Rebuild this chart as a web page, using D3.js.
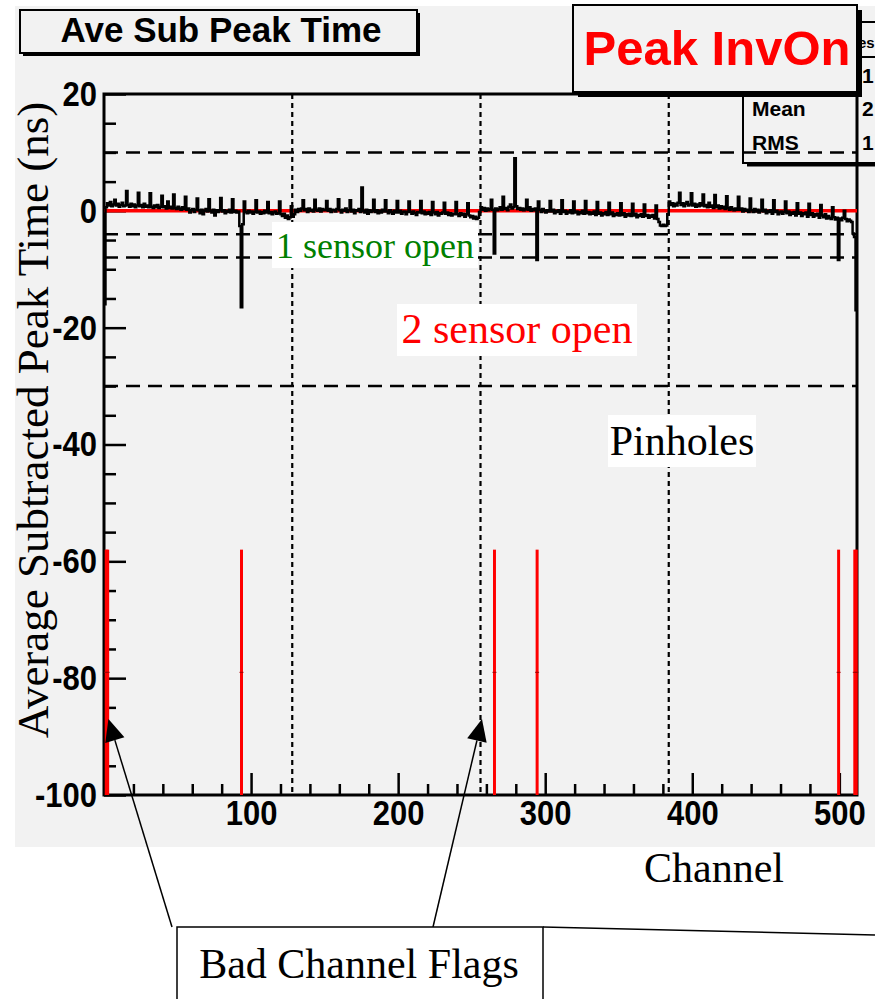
<!DOCTYPE html>
<html lang="en">
<head>
<meta charset="utf-8">
<title>Ave Sub Peak Time</title>
<style>
  body { margin: 0; background: #ffffff; }
  svg { display: block; }
  .tick text { font-family: "Liberation Sans", Arial, sans-serif; font-weight: bold; font-size: 31px; fill: #000; }
  .serif { font-family: "Liberation Serif", "Times New Roman", serif; }
  .sans { font-family: "Liberation Sans", Arial, sans-serif; font-weight: bold; }
</style>
<script src="https://d3js.org/d3.v7.min.js"></script>
</head>
<body>
<div id="chart"></div>
<script>
// average subtracted peak time per channel (4 sensors x 128 channels)
var sensor1 = [
  -16.0, 0.6, 1.3, 0.9, 1.5, 0.8, 1.1, 1.9,
  0.9, 1.2, 0.7, 1.0, 1.4, 0.8, 0.9, 3.4,
  1.0, 0.7, 1.2, 0.8, 1.1, 0.6, 0.9, 3.1,
  0.8, 1.0, 0.6, 1.2, 0.7, 0.9, 0.6, 3.0,
  0.7, 0.5, 0.9, 0.6, 1.0, 0.5, 0.7, 2.6,
  0.6, 0.8, 0.4, 1.6, 0.5, 0.7, 0.4, 2.8,
  0.5, 0.3, 0.7, 0.4, 0.2, 0.6, 0.3, 2.4,
  0.2, 0.4, -0.3, 0.1, 0.3, -0.2, 0.2, 2.1,
  0.1, -0.4, 0.2, -0.6, 0.0, 0.3, -0.1, 2.0,
  0.0, -0.3, 0.2, -0.8, 0.1, -0.2, 0.1, 2.2,
  -0.1, 0.1, -0.4, 0.0, -0.2, 0.2, -0.3, 2.0,
  -0.2, 0.0, -0.3, -0.1, -2.6, -16.5, -2.3, 1.6,
  -0.2, -0.4, 0.0, -0.3, -0.1, -0.5, -0.2, 1.8,
  -0.3, -0.1, -0.5, -0.2, -0.4, 0.0, -0.3, 1.5,
  -0.4, -0.2, -0.6, -0.3, -0.1, -0.5, -0.4, 1.6,
  -0.6, -0.9, -0.5, -1.2, -0.8, -1.4, -1.1, 0.8
];
var sensor2 = [
  -1.0, -0.6, 0.2, -0.2, 0.3, 0.0, 0.4, 1.8,
  0.1, 0.3, -0.2, 0.4, 0.0, 0.2, -0.1, 1.9,
  0.2, 0.0, 0.4, -0.1, 0.3, 0.1, 0.2, 1.7,
  0.0, 0.3, -0.2, 0.2, 0.1, -0.1, 0.3, 2.0,
  0.1, -0.3, 0.2, 0.0, 0.4, -0.2, 0.1, 1.8,
  -0.1, 0.2, -0.4, 0.1, 0.0, 0.3, -0.2, 4.0,
  0.0, -0.3, 0.2, -0.5, 0.1, -0.2, 0.0, 1.9,
  -0.2, 0.1, -0.4, 0.0, -0.3, 0.2, -0.1, 1.8,
  -0.1, -0.4, 0.1, -0.2, -0.5, 0.0, -0.3, 1.7,
  -0.3, 0.0, -0.5, -0.2, -0.1, -0.6, -0.2, 1.6,
  -0.2, -0.5, -0.1, -0.4, -0.7, -0.2, -0.3, 1.7,
  -0.4, -0.1, -0.6, -0.3, -0.5, -0.2, -0.7, 1.5,
  -0.3, -0.6, -0.2, -0.8, -0.4, -0.5, -0.3, 1.4,
  -0.5, -0.3, -0.7, -0.4, -0.8, -0.5, -0.6, 1.5,
  -0.6, -0.9, -0.4, -0.7, -0.5, -1.0, -0.6, 1.3,
  -0.8, -1.1, -0.9, -1.3, -1.0, -1.4, -1.2, -0.2
];
var sensor3 = [
  0.6, 0.2, 0.5, 0.0, 0.4, 0.1, 0.3, 1.9,
  0.2, -7.3, 0.4, 0.1, 0.3, 0.6, 0.2, 2.4,
  0.3, 0.5, 0.1, 0.7, 1.1, 0.4, 0.6, 9.0,
  0.8, 0.3, 0.5, 0.2, 0.4, 0.1, 0.3, 1.9,
  0.2, 0.6, 0.0, 0.3, 0.1, 0.4, -8.4, 1.6,
  0.2, -0.2, 0.3, 0.0, -0.3, 0.1, -0.1, 1.7,
  -0.1, 0.2, -0.4, 0.0, -0.2, 0.1, -0.5, 1.8,
  -0.2, 0.0, -0.5, -0.1, -0.3, 0.1, -0.4, 1.6,
  -0.3, -0.1, -0.6, -0.2, -0.4, 0.0, -0.5, 1.7,
  -0.4, -0.2, -0.6, -0.3, -0.5, -0.1, -0.7, 1.5,
  -0.5, -0.3, -0.8, -0.4, -0.6, -0.2, -0.7, 1.4,
  -0.6, -0.3, -0.9, -0.5, -0.7, -0.4, -0.8, 1.3,
  -0.7, -0.4, -1.0, -0.6, -0.8, -0.5, -0.9, 1.2,
  -0.8, -0.5, -1.1, -0.7, -0.9, -0.6, -1.0, 1.1,
  -0.9, -0.7, -1.2, -0.8, -1.0, -0.7, -1.3, 0.9,
  -1.4, -1.9, -2.5, -2.6, -2.4, -2.6, -2.5, -0.6
];
var sensor4 = [
  1.6, 1.0, 1.3, 0.8, 1.2, 0.9, 1.4, 3.1,
  1.0, 1.3, 0.8, 1.2, 1.5, 0.9, 1.1, 3.0,
  0.9, 1.2, 0.7, 1.1, 0.8, 1.3, 0.9, 2.8,
  0.8, 1.0, 0.6, 1.4, 0.7, 0.9, 0.5, 2.7,
  0.6, 0.9, 0.4, 0.8, 0.5, 0.7, 0.3, 2.5,
  0.5, 0.2, 0.6, 0.3, 0.1, 0.4, 0.2, 2.4,
  0.2, 0.4, -0.1, 0.3, 0.0, 0.2, -0.2, 2.1,
  0.1, -0.2, 0.3, -0.1, 0.2, -0.3, 0.0, 1.9,
  -0.1, 0.2, -0.4, 0.0, -0.2, 0.1, -0.5, 1.8,
  -0.2, 0.0, -0.6, -0.3, -0.1, -0.5, -0.2, 1.6,
  -0.4, -0.1, -0.7, -0.3, -0.5, -0.2, -0.8, 1.3,
  -0.5, -0.3, -0.9, -0.4, -0.6, -0.3, -1.0, 1.2,
  -0.7, -0.4, -1.0, -0.6, -0.8, -0.5, -1.2, 1.0,
  -0.8, -1.1, -0.6, -1.3, -0.9, -1.2, -1.4, 0.6,
  -1.1, -1.5, -1.2, -8.4, -1.3, -1.6, -1.2, 0.0,
  -1.4, -1.8, -1.5, -1.7, -1.9, -3.9, -4.5, -17.0
];

// bad channel flags: value and error bar
var badChannels = [1, 2, 93, 265, 294, 499, 510, 511];
var flagValue = -79;
var flagError = 21;

// cut lines
var cutLevels = [10, -4, -8, -30];
var sensorEdges = [128, 256, 384];

// axes
var xTicks = [100, 200, 300, 400, 500];
var xMinor = d3.range(20, 512, 20).filter(v => v % 100 != 0);
var yTicks = [-100, -80, -60, -40, -20, 0, 20];
var yMinor = d3.range(-95, 20, 5).filter(v => v % 20 != 0);

var peakTime = sensor1.concat(sensor2, sensor3, sensor4)
    .map((v, i) => ({ch: i, v: v}));

var width = 875, height = 999;
var svg = d3.select('#chart').append('svg')
    .attr('width', width)
    .attr('height', height);

var x = d3.scaleLinear().domain([0, 512]).range([104, 857]);
var y = d3.scaleLinear().domain([-100, 20]).range([795, 94]);

// pad
svg.append('rect')
    .attr('x', 15).attr('y', 6)
    .attr('width', width - 15).attr('height', 841)
    .attr('fill', '#f2f2f2');

// title box
svg.append('rect').attr('x', 23).attr('y', 13).attr('width', 397).attr('height', 43).attr('fill', '#000');
svg.append('rect').attr('x', 20).attr('y', 10).attr('width', 397).attr('height', 43)
    .attr('fill', '#f2f2f2').attr('stroke', '#000').attr('stroke-width', 2);
svg.append('text').attr('class', 'sans')
    .attr('x', 221).attr('y', 42)
    .attr('text-anchor', 'middle').attr('font-size', 35)
    .text('Ave Sub Peak Time');

// stats box (partly hidden)
var stats = svg.append('g');
stats.append('line').attr('x1', 747).attr('x2', 875).attr('y1', 165).attr('y2', 165)
    .attr('stroke', '#000').attr('stroke-width', 3);
stats.append('rect').attr('x', 743).attr('y', 22).attr('width', 200).attr('height', 141)
    .attr('fill', 'none').attr('stroke', '#000').attr('stroke-width', 2);
stats.append('line').attr('x1', 743).attr('x2', 875).attr('y1', 57).attr('y2', 57)
    .attr('stroke', '#000').attr('stroke-width', 2);
stats.append('text').attr('class', 'sans').attr('x', 858).attr('y', 48).attr('font-size', 15).text('es');
stats.append('text').attr('class', 'sans').attr('x', 862).attr('y', 83).attr('font-size', 21).text('1');
stats.append('text').attr('class', 'sans').attr('x', 752).attr('y', 116).attr('font-size', 21).text('Mean');
stats.append('text').attr('class', 'sans').attr('x', 862).attr('y', 116).attr('font-size', 21).text('2');
stats.append('text').attr('class', 'sans').attr('x', 752).attr('y', 150).attr('font-size', 21).text('RMS');
stats.append('text').attr('class', 'sans').attr('x', 862).attr('y', 150).attr('font-size', 21).text('1');

var plot = svg.append('g');

// cut levels
plot.selectAll('.cut')
    .data(cutLevels)
    .enter()
    .append('line')
    .attr('class', 'cut')
    .attr('x1', x(0)).attr('x2', x(512))
    .attr('y1', d => y(d)).attr('y2', d => y(d))
    .attr('stroke', '#000').attr('stroke-width', 2.5)
    .attr('stroke-dasharray', '14,8');

// sensor boundaries
plot.selectAll('.edge')
    .data(sensorEdges)
    .enter()
    .append('line')
    .attr('class', 'edge')
    .attr('x1', d => x(d)).attr('x2', d => x(d))
    .attr('y1', y(20)).attr('y2', y(-100))
    .attr('stroke', '#000').attr('stroke-width', 2.2)
    .attr('stroke-dasharray', '5,4');

// zero line
plot.append('line')
    .attr('x1', x(0)).attr('x2', x(512))
    .attr('y1', y(0)).attr('y2', y(0))
    .attr('stroke', '#ff0000').attr('stroke-width', 3.5);

// trace
var line = d3.line()
    .x(d => x(d.ch + 0.5))
    .y(d => y(d.v))
    .curve(d3.curveStep);
plot.append('path')
    .datum(peakTime)
    .attr('d', line)
    .attr('fill', 'none')
    .attr('stroke', '#000')
    .attr('stroke-width', 2.5)
    .attr('stroke-linejoin', 'miter');

// axes, ticks inside the frame
var fmt = d => String(d);
var xAxis = svg.append('g')
    .attr('transform', `translate(0,${y(-100)})`)
    .call(d3.axisBottom(x).tickValues(xTicks).tickSize(-22).tickPadding(5).tickFormat(fmt));
svg.append('g')
    .attr('transform', `translate(0,${y(-100)})`)
    .call(d3.axisBottom(x).tickValues(xMinor).tickSize(-11).tickFormat(''));
var yAxis = svg.append('g')
    .attr('transform', `translate(${x(0)},0)`)
    .call(d3.axisLeft(y).tickValues(yTicks).tickSize(-22).tickPadding(7).tickFormat(fmt));
svg.append('g')
    .attr('transform', `translate(${x(0)},0)`)
    .call(d3.axisLeft(y).tickValues(yMinor).tickSize(-12).tickFormat(''));
svg.selectAll('.domain').remove();
svg.selectAll('.tick line').attr('stroke', '#000').attr('stroke-width', 2.5);
// ROOT labels look a bit taller than wide
xAxis.selectAll('.tick text').attr('y', 5 / 1.15).attr('transform', 'scale(1,1.15)');
yAxis.selectAll('.tick text').attr('transform', 'scale(1,1.15)');

// frame
svg.append('rect')
    .attr('x', x(0)).attr('y', y(20))
    .attr('width', x(512) - x(0)).attr('height', y(-100) - y(20))
    .attr('fill', 'none').attr('stroke', '#000').attr('stroke-width', 3);

// bad channel flags
plot.raise();
var flags = svg.append('g');
flags.selectAll('.flag')
    .data(badChannels)
    .enter()
    .append('line')
    .attr('class', 'flag')
    .attr('x1', d => x(d + 0.5)).attr('x2', d => x(d + 0.5))
    .attr('y1', y(flagValue + flagError))
    .attr('y2', y(Math.max(flagValue - flagError, -100)))
    .attr('stroke', '#ff0000').attr('stroke-width', 3);
flags.selectAll('.flagmark')
    .data(badChannels)
    .enter()
    .append('line')
    .attr('class', 'flagmark')
    .attr('x1', d => x(d + 0.5) - 2).attr('x2', d => x(d + 0.5) + 2)
    .attr('y1', y(flagValue)).attr('y2', y(flagValue))
    .attr('stroke', '#a00000').attr('stroke-width', 1);

// big label box
svg.append('rect').attr('x', 578).attr('y', 10).attr('width', 284).attr('height', 87).attr('fill', '#000');
svg.append('rect').attr('x', 573).attr('y', 5).attr('width', 284).attr('height', 87)
    .attr('fill', '#f2f2f2').attr('stroke', '#000').attr('stroke-width', 2);
svg.append('text').attr('class', 'sans')
    .attr('x', 717).attr('y', 65)
    .attr('text-anchor', 'middle').attr('font-size', 49)
    .attr('fill', '#ff0000')
    .text('Peak InvOn');

// annotations
function note(txt, cx, base, size, color, box) {
    svg.append('rect')
        .attr('x', box[0]).attr('y', box[1]).attr('width', box[2]).attr('height', box[3])
        .attr('fill', '#fff')
        .attr('stroke', box[4] ? '#000' : 'none').attr('stroke-width', 1.5);
    svg.append('text').attr('class', 'serif')
        .attr('x', cx).attr('y', base)
        .attr('text-anchor', 'middle').attr('font-size', size)
        .attr('fill', color)
        .text(txt);
}
note('1 sensor open', 375, 258, 36, '#008000', [272, 222, 206, 46, false]);
note('2 sensor open', 517, 343, 42, '#ff0000', [397, 304, 240, 52, false]);
note('Pinholes', 682, 455, 42, '#000', [608, 415, 148, 52, false]);

svg.append('text').attr('class', 'serif')
    .attr('transform', 'translate(48,420) rotate(-90)')
    .attr('text-anchor', 'middle').attr('font-size', 45)
    .text('Average Subtracted Peak Time (ns)');
svg.append('text').attr('class', 'serif')
    .attr('x', 714).attr('y', 882)
    .attr('text-anchor', 'middle').attr('font-size', 42)
    .text('Channel');

// arrows to the flags
var tips = [[3, -87], [257, -87]];
var starts = [[172, 927], [433, 927]];
tips.forEach((t, i) => {
    var tx = x(t[0]), ty = y(t[1]);
    var sx = starts[i][0], sy = starts[i][1];
    var ang = Math.atan2(ty - sy, tx - sx);
    var len = 22, half = 10;
    var bx = tx - len * Math.cos(ang), by = ty - len * Math.sin(ang);
    svg.append('line')
        .attr('x1', sx).attr('y1', sy).attr('x2', bx).attr('y2', by)
        .attr('stroke', '#000').attr('stroke-width', 1.5);
    svg.append('path')
        .attr('d', `M${tx},${ty}L${bx + half * Math.sin(ang)},${by - half * Math.cos(ang)}L${bx - half * Math.sin(ang)},${by + half * Math.cos(ang)}Z`)
        .attr('fill', '#000');
});
svg.append('line')
    .attr('x1', 543).attr('y1', 927).attr('x2', 875).attr('y2', 935)
    .attr('stroke', '#000').attr('stroke-width', 1.5);
note('Bad Channel Flags', 359, 978, 42, '#000', [177, 927, 366, 80, true]);
</script>
</body>
</html>
